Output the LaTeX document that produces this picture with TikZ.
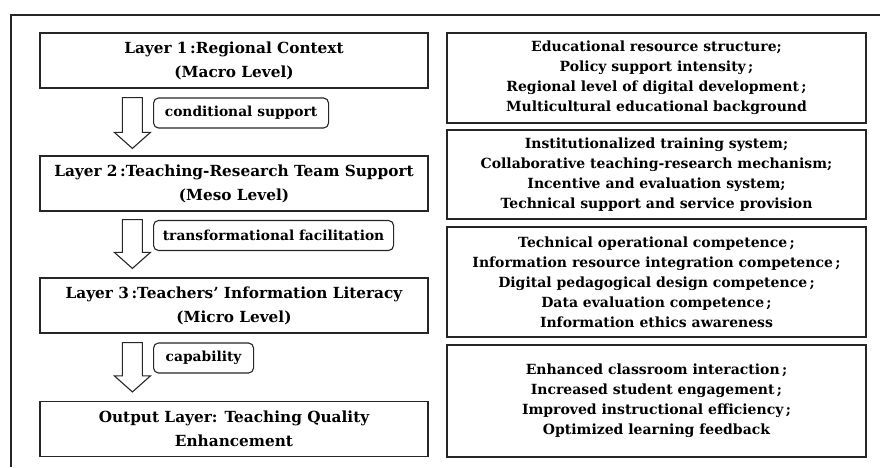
\documentclass[tikz,border=0pt]{standalone}
\usepackage{fontspec}
\setmainfont{DejaVu Serif}
\usetikzlibrary{calc}

\tikzset{
  frame/.style={line width=1.4pt, draw=black!85},
  layerbox/.style={draw=black!85, line width=1.2pt, fill=white, align=center,
    minimum width=388pt, minimum height=55pt, inner sep=0pt,
    font=\bfseries\fontsize{15.3}{24}\selectfont},
  itembox/.style={draw=black!85, line width=1.2pt, fill=white, align=center,
    minimum width=419pt, inner sep=0pt,
    font=\bfseries\fontsize{14}{20}\selectfont},
  tagbox/.style={draw=black!85, line width=1.1pt, rounded corners=5pt, fill=white,
    minimum height=30pt, inner sep=0pt, anchor=west,
    font=\bfseries\fontsize{13.8}{15}\selectfont},
  hollow/.style={draw=black!85, line width=1.1pt, fill=white, line join=miter}
}

% hollow block arrow from the top-centre coordinate #1 down to the tip #2
\newcommand\hollowarrow[2]{%
  \draw[hollow] let \p1=(#1), \p2=(#2) in
    (\x1-10pt,\y1) -- (\x1+10pt,\y1) -- (\x1+10pt,\y2+16pt)
    -- (\x1+18pt,\y2+16pt) -- (\x1,\y2) -- (\x1-18pt,\y2+16pt)
    -- (\x1-10pt,\y2+16pt) -- cycle;}

\begin{document}
\begin{tikzpicture}[x=1pt,y=-1pt]
\useasboundingbox (0,0) rectangle (880,467);
\draw[frame] (11,467) -- (11,15) -- (880,15);

% layer column
\node[layerbox] (L1) at (234,60.5) {Layer 1\,:Regional Context\\(Macro Level)};
\node[layerbox] (L2) at (234,183.5) {Layer 2\,:Teaching-Research Team Support\\(Meso Level)};
\node[layerbox] (L3) at (234,305.5) {Layer 3\,:Teachers’ Information Literacy\\(Micro Level)};
\node[layerbox] (L4) at (234,429) {Output Layer: Teaching Quality\\Enhancement};

% element column
\node[itembox, minimum height=90pt] (R1) at (656.5,78) {Educational resource structure;\\Policy support intensity\,;\\Regional level of digital development\,;\\Multicultural educational background};
\node[itembox, minimum height=89pt] (R2) at (656.5,174.5) {Institutionalized training system;\\Collaborative teaching-research mechanism;\\Incentive and evaluation system;\\Technical support and service provision};
\node[itembox, minimum height=110pt] (R3) at (656.5,282) {Technical operational competence\,;\\Information resource integration competence\,;\\Digital pedagogical design competence\,;\\Data evaluation competence\,;\\Information ethics awareness};
\node[itembox, minimum height=112pt] (R4) at (656.5,401) {Enhanced classroom interaction\,;\\Increased student engagement\,;\\Improved instructional efficiency\,;\\Optimized learning feedback};

% transitions between layers
\path (L1.south west) ++(93,9) coordinate (a1s);
\path (L2.north west) ++(93,-7) coordinate (a1e);
\path (L2.south west) ++(93,8) coordinate (a2s);
\path (L3.north west) ++(93,-9) coordinate (a2e);
\path (L3.south west) ++(93,9) coordinate (a3s);
\path (L4.north west) ++(93,-9) coordinate (a3e);
\hollowarrow{a1s}{a1e}
\hollowarrow{a2s}{a2e}
\hollowarrow{a3s}{a3e}

\node[tagbox, minimum width=175pt] (t1) at (153,113) {conditional support};
\node[tagbox, minimum width=240pt] (t2) at (153,235.5) {transformational facilitation};
\node[tagbox, minimum width=100pt] (t3) at (153,358) {capability};
\end{tikzpicture}
\end{document}
